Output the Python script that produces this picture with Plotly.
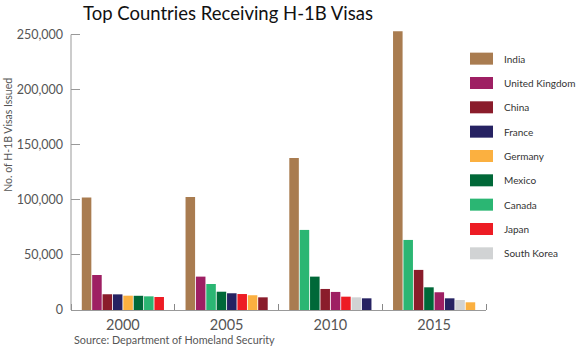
import plotly.graph_objects as go

years = ["2000", "2005", "2010", "2015"]
countries = ["India", "United Kingdom", "China", "France", "Germany",
             "Mexico", "Canada", "Japan", "South Korea"]
india = [102100, 102500, 138000, 253000]
united_kingdom = [31800, 30300, 16400, 16100]
china = [14300, 11500, 19100, 36400]
france = [14200, 15200, 10600, 10600]
germany = [13000, 13400, None, 7000]
mexico = [12900, 16600, 30300, 20600]
canada = [12400, 23600, 72700, 63600]
japan = [11800, 14500, 12100, None]
south_korea = [None, None, 11500, 9100]
y_ticks = [0, 50000, 100000, 150000, 200000, 250000]

values = {
    "India": india, "United Kingdom": united_kingdom, "China": china,
    "France": france, "Germany": germany, "Mexico": mexico,
    "Canada": canada, "Japan": japan, "South Korea": south_korea,
}
colors = {
    "India": "#A97C50", "United Kingdom": "#9E1F63", "China": "#8A1C2B",
    "France": "#262262", "Germany": "#FBB040", "Mexico": "#006838",
    "Canada": "#2BB673", "Japan": "#ED1C24", "South Korea": "#D1D3D4",
}

GROUP = 10  # slots per year group
# position each bar by its rank within the year (bars sorted descending)
pos = {c: [None] * len(years) for c in countries}
for g in range(len(years)):
    present = [c for c in countries if values[c][g] is not None]
    present.sort(key=lambda c: -values[c][g])
    n = len(present)
    for r, c in enumerate(present):
        pos[c][g] = g * GROUP + r - (n - 1) / 2

fig = go.Figure()
for c in countries:
    xs = [pos[c][g] for g in range(len(years)) if values[c][g] is not None]
    ys = [values[c][g] for g in range(len(years)) if values[c][g] is not None]
    fig.add_trace(go.Bar(x=xs, y=ys, name=c, width=0.92,
                         marker=dict(color=colors[c], line=dict(width=0)),
                         showlegend=False))

W, H = 580, 346
YMAX = 256000
Y_TOP_PX = 310 - 275 * YMAX / 250000
L, R, T, B = 71, 94, Y_TOP_PX, 36
pw, ph = W - L - R, H - T - B


def px(x):
    return (x - L) / pw


def py(y):
    return (H - B - y) / ph


# y-axis line ending at the top tick
fig.add_shape(type="line", xref="paper", yref="y", x0=0, x1=0, y0=0, y1=y_ticks[-1],
              line=dict(color="#999", width=1))

# custom legend
for i, c in enumerate(countries):
    cy = 59 + i * 24.3
    fig.add_shape(type="rect", xref="paper", yref="paper",
                  x0=px(470), x1=px(493), y0=py(cy + 6), y1=py(cy - 6),
                  fillcolor=colors[c], line=dict(width=0))
    fig.add_annotation(text=c, xref="paper", yref="paper", x=px(502), y=py(cy),
                       xanchor="left", yanchor="middle", showarrow=False,
                       font=dict(family="Lato", size=10, color="#333"))

fig.add_annotation(text="Top Countries Receiving H-1B Visas", xref="paper", yref="paper",
                   x=px(81), y=py(13), xanchor="left", yanchor="middle", showarrow=False,
                   font=dict(family="Lato", size=18.5, color="#111"))
fig.add_annotation(text="No. of H-1B Visas Issued", xref="paper", yref="paper",
                   x=px(8), y=py(135), xanchor="center", yanchor="middle", textangle=-90,
                   showarrow=False, font=dict(family="Lato", size=10.5, color="#555"))
fig.add_annotation(text="Source: Department of Homeland Security", xref="paper", yref="paper",
                   x=px(72), y=py(339.5), xanchor="left", yanchor="middle", showarrow=False,
                   font=dict(family="Lato", size=10.8, color="#555"))

fig.update_layout(
    width=W, height=H, margin=dict(l=L, r=R, t=T, b=B, pad=0),
    paper_bgcolor="white", plot_bgcolor="white", barmode="overlay",
    font=dict(family="Lato", color="#555"),
    xaxis=dict(range=[-5, 35], showgrid=False, zeroline=False, showline=True,
               linecolor="#999", linewidth=1,
               tickvals=[g * GROUP for g in range(len(years))], ticktext=years,
               ticks="", tickfont=dict(size=14.5, color="#555"), ticklabelstandoff=2,
               minor=dict(tick0=-5, dtick=GROUP, ticks="inside", ticklen=6,
                          tickcolor="#888", tickwidth=1)),
    yaxis=dict(range=[0, YMAX], showgrid=False, zeroline=False, showline=False,
               tickvals=y_ticks, tickformat=",",
               ticks="inside", ticklen=9, tickcolor="#999",
               tickfont=dict(size=12.5, color="#555"), ticklabelstandoff=7),
)

fig.write_html("out.html")
